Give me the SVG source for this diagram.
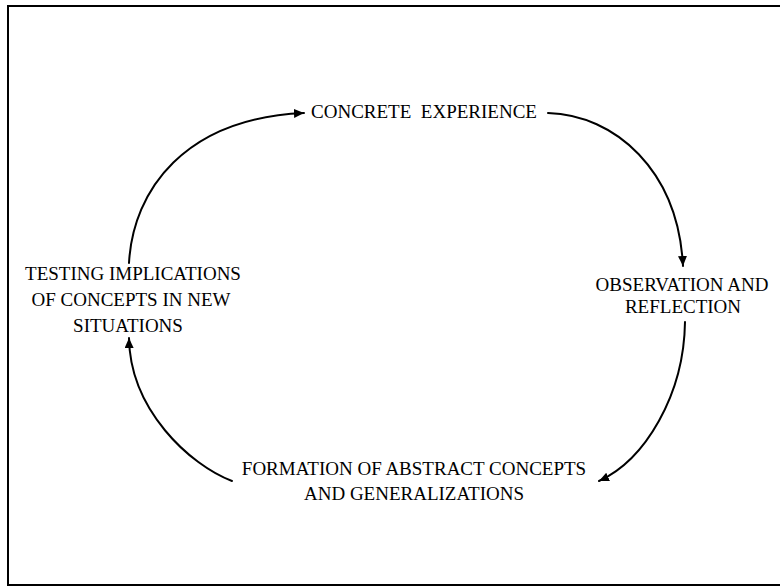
<svg xmlns="http://www.w3.org/2000/svg" width="780" height="587" viewBox="0 0 780 587">
  <style>
    .label { font-family: "Liberation Serif", "Times New Roman", serif; font-size: 19px; fill: #000; text-anchor: middle; }
    .flow { fill: none; stroke: #000; stroke-width: 2; stroke-linecap: round; marker-end: url(#head); }
  </style>
  <defs>
    <marker id="head" markerUnits="userSpaceOnUse" markerWidth="12" markerHeight="10" refX="10" refY="4.5" orient="auto">
      <path d="M0,0 L10,4.5 L0,9 Z" fill="#000"/>
    </marker>
  </defs>
  <rect x="0" y="0" width="780" height="587" fill="#fff"/>
  <!-- frame (right edge runs off the page) -->
  <rect x="8" y="6" width="776" height="579" fill="none" stroke="#000" stroke-width="2"/>

  <g id="connectors">
    <path class="flow" d="M129,263 C133,190 185,118 304,113"/>
    <path class="flow" d="M548,113 C615,115 678,170 683,266"/>
    <path class="flow" d="M685,322 C684,395 645,460 599,481"/>
    <path class="flow" d="M232,481 C190,465 130,410 129,338"/>
  </g>

  <g id="concrete-experience">
    <text class="label" x="424" y="118" xml:space="preserve">CONCRETE  EXPERIENCE</text>
  </g>
  <g id="observation-reflection">
    <text class="label" x="682" y="291">OBSERVATION AND</text>
    <text class="label" x="683" y="313">REFLECTION</text>
  </g>
  <g id="abstract-concepts">
    <text class="label" x="414" y="475">FORMATION OF ABSTRACT CONCEPTS</text>
    <text class="label" x="414" y="500">AND GENERALIZATIONS</text>
  </g>
  <g id="testing-implications">
    <text class="label" x="133" y="280">TESTING IMPLICATIONS</text>
    <text class="label" x="131" y="306">OF CONCEPTS IN NEW</text>
    <text class="label" x="128" y="332">SITUATIONS</text>
  </g>
</svg>
